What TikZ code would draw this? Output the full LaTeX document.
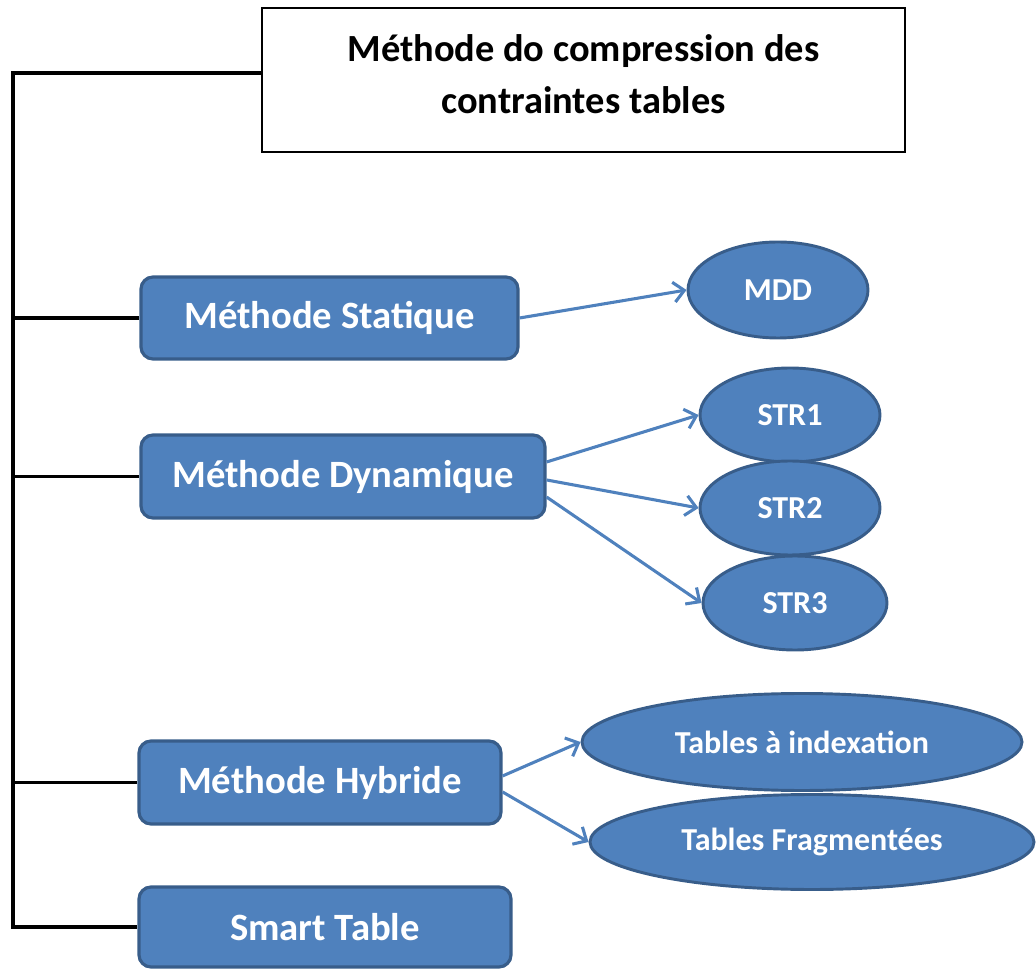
\documentclass[tikz,border=0pt]{standalone}
\usepackage{fontspec}
\setmainfont{Carlito}
\usetikzlibrary{arrows.meta,shapes.geometric}
\definecolor{boxblue}{HTML}{4F81BD}
\definecolor{boxedge}{HTML}{385D8A}
\begin{document}
\begin{tikzpicture}[x=0.75pt,y=-0.75pt,
  bluebox/.style={draw=boxedge, line width=2.4pt, fill=boxblue, rounded corners=9pt,
    text=white, inner sep=0pt, font=\bfseries\fontsize{29}{34}\selectfont},
  oval/.style={ellipse, draw=boxedge, line width=2.2pt, fill=boxblue, text=white,
    inner sep=0pt, font=\bfseries\fontsize{24}{28}\selectfont},
  titlebox/.style={draw=black, line width=2.2pt, fill=white, inner sep=0pt},
  titletext/.style={inner sep=0pt, align=center, font=\bfseries\fontsize{28.8}{39}\selectfont},
  treeline/.style={draw=black, line width=2.6pt},
  arr/.style={draw=boxblue, line width=2.3pt, -{Straight Barb[length=8pt,width=15pt]}}
]
\useasboundingbox (0,0) rectangle (1036,969);

\node[titlebox, minimum width=482.25pt, minimum height=108pt] (title) at (583.5,80) {};
\node[titletext] (titletext) at (583.5,74) {Méthode do compression des\\contraintes tables};

\node[bluebox, minimum width=282.75pt, minimum height=61.5pt] (stat) at (329.5,318) {Méthode Statique};
\node[bluebox, minimum width=303pt, minimum height=62.25pt] (dyn) at (343,476.5) {Méthode Dynamique};
\node[bluebox, minimum width=271.5pt, minimum height=62.25pt] (hyb) at (320,782.5) {Méthode Hybride};
\node[bluebox, minimum width=279pt, minimum height=60pt] (smart) at (325,927) {Smart Table};

\node[oval, minimum width=135pt, minimum height=72pt] (mdd) at (778,290) {MDD};
\node[oval, minimum width=135pt, minimum height=70.5pt] (str1) at (790,415) {STR1};
\node[oval, minimum width=135pt, minimum height=70.5pt] (str2) at (790,508) {STR2};
\node[oval, minimum width=138pt, minimum height=70.5pt] (str3) at (795,603) {STR3};
\node[oval, minimum width=330pt, minimum height=72.75pt] (tai) at (802,742) {Tables à indexation};
\node[oval, minimum width=333pt, minimum height=71.25pt] (tf) at (812,842) {Tables Fragmentées};

\coordinate (spinetop) at (13,73);
\draw[treeline] ([yshift=5.25pt]title.west) -- (spinetop) |- (smart.west);
\draw[treeline] (spinetop |- stat.west) -- (stat.west);
\draw[treeline] (spinetop |- dyn.west) -- (dyn.west);
\draw[treeline] (spinetop |- hyb.west) -- (hyb.west);

\draw[arr] (stat.east) -- (mdd.west);
\draw[arr] ([yshift=10.9pt]dyn.east) -- (str1.west);
\draw[arr] ([yshift=-2.6pt]dyn.east) -- (str2.west);
\draw[arr] ([yshift=-15.4pt]dyn.east) -- (str3.west);
\draw[arr] ([yshift=4.9pt]hyb.east) -- (tai.west);
\draw[arr] ([yshift=-7.1pt]hyb.east) -- (tf.west);
\end{tikzpicture}
\end{document}
